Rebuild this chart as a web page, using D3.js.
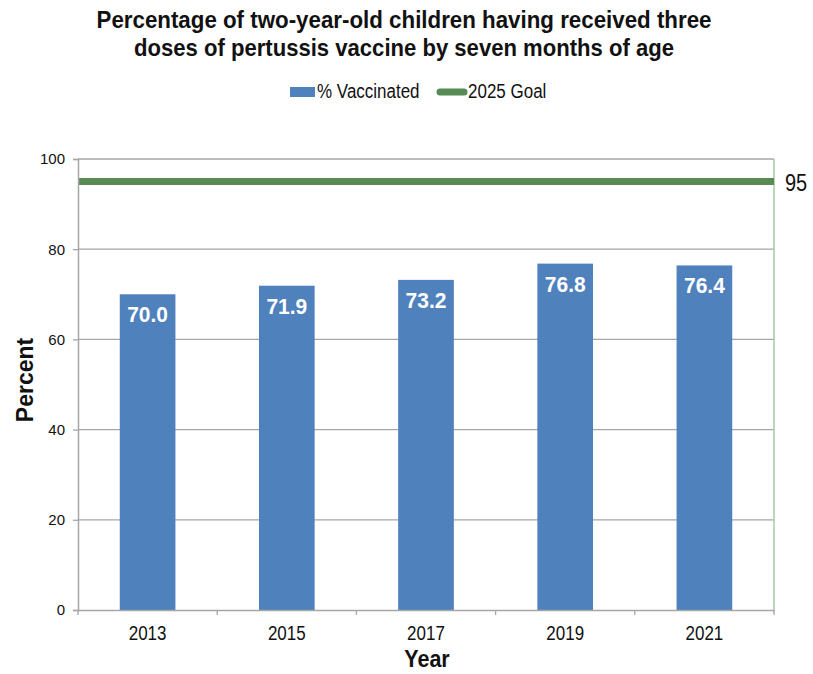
<!DOCTYPE html>
<html><head><meta charset="utf-8">
<script src="https://cdn.jsdelivr.net/npm/d3@7"></script>
<style>body{margin:0;background:#fff;} svg{display:block;}</style>
</head><body>
<script>
const years = ["2013","2015","2017","2019","2021"];
const vaccinated = [70.0, 71.9, 73.2, 76.8, 76.4];
const goal = 95;
const yTicks = [0,20,40,60,80,100];
const titleLines = ["Percentage of two-year-old children having received three","doses of pertussis vaccine by seven months of age"];
const legendLabels = ["% Vaccinated","2025 Goal"];

const W = 813, H = 674;
const m = {left:78, right:39, top:159, bottom:64};
const svg = d3.select("body").append("svg").attr("width",W).attr("height",H);
const font = "'Liberation Sans', Arial, sans-serif";
const ink = "#111";
const blue = "#4f81bd", green = "#578a55", grid = "#a6a6a6";

// text with a slight vertical stretch, positioned by translate
function stext(g, x, y, s, size, weight, anchor, txt, fill) {
  return g.append("text")
    .attr("transform", `translate(${x},${y}) scale(1,${s})`)
    .attr("text-anchor", anchor).attr("font-family", font)
    .attr("font-weight", weight).attr("font-size", size)
    .attr("fill", fill || ink).text(txt);
}

const x = d3.scaleBand().domain(years).range([m.left, W-m.right]).paddingInner(0.6).paddingOuter(0.3);
const y = d3.scaleLinear().domain([0,100]).range([H-m.bottom, m.top]);

// gridlines
svg.append("g").selectAll("line").data(yTicks.filter(d=>d>0)).join("line")
  .attr("x1",m.left).attr("x2",W-m.right).attr("y1",d=>y(d)).attr("y2",d=>y(d))
  .attr("stroke",grid).attr("stroke-width",1.3);

// right border
svg.append("line").attr("x1",W-m.right).attr("x2",W-m.right).attr("y1",y(100)).attr("y2",y(0))
  .attr("stroke","#a9c9a4").attr("stroke-width",1.5);

// bars
svg.append("g").selectAll("rect").data(vaccinated).join("rect")
  .attr("x",(d,i)=>x(years[i])).attr("width",x.bandwidth())
  .attr("y",d=>y(d)).attr("height",d=>y(0)-y(d)).attr("fill",blue);

// value labels
const vl = svg.append("g");
vaccinated.forEach((d,i)=>{
  stext(vl, x(years[i])+x.bandwidth()/2, y(d)+28, 1.08, 21, "bold", "middle", d.toFixed(1), "#fff");
});

// goal line
svg.append("line").attr("x1",m.left).attr("x2",W-m.right).attr("y1",y(goal)).attr("y2",y(goal))
  .attr("stroke",green).attr("stroke-width",7);
stext(svg, W-m.right+11, y(goal)+9, 1.2, 20, "normal", "start", String(goal));

// y axis
const ya = svg.append("g").attr("transform",`translate(${m.left},0)`)
  .call(d3.axisLeft(y).tickValues(yTicks).tickSize(5).tickPadding(8));
ya.select(".domain").attr("stroke",grid).attr("stroke-width",1.5);
ya.selectAll(".tick line").attr("stroke",grid).attr("stroke-width",1.3);
ya.selectAll("text").attr("font-family",font).attr("font-size",15).attr("fill",ink);

// x axis
const xa = svg.append("g").attr("transform",`translate(0,${y(0)})`)
  .call(d3.axisBottom(x).tickSize(0).tickFormat(""));
xa.select(".domain").attr("stroke",grid).attr("stroke-width",1.5);
const xl = svg.append("g");
years.forEach(yr=>{
  stext(xl, x(yr)+x.bandwidth()/2, 640, 1.15, 17, "normal", "middle", yr);
});
// boundary ticks
const bounds = d3.range(years.length+1).map(i=>m.left + i*(W-m.right-m.left)/years.length);
svg.append("g").selectAll("line").data(bounds).join("line")
  .attr("x1",d=>d).attr("x2",d=>d).attr("y1",y(0)).attr("y2",y(0)+5)
  .attr("stroke",grid).attr("stroke-width",1.3);

// axis titles
svg.append("text").attr("transform",`translate(33,380) rotate(-90)`)
  .attr("text-anchor","middle").attr("font-family",font).attr("font-weight","bold")
  .attr("font-size",23).attr("fill",ink).text("Percent");
stext(svg, 427, 667, 1.12, 21.5, "bold", "middle", "Year");

// title
const titleWidths = [615, 540];
titleLines.forEach((t,i)=>{
  svg.append("text").attr("x",404).attr("y",28+i*28).attr("text-anchor","middle")
    .attr("font-family",font).attr("font-weight","bold").attr("font-size",24).attr("fill",ink)
    .attr("textLength",titleWidths[i]).attr("lengthAdjust","spacingAndGlyphs").text(t);
});

// legend
const lg = svg.append("g");
lg.append("rect").attr("x",290).attr("y",87).attr("width",25).attr("height",10).attr("fill",blue);
stext(lg, 317, 98, 1.15, 17, "normal", "start", legendLabels[0]);
lg.append("line").attr("x1",440).attr("x2",464).attr("y1",92).attr("y2",92).attr("stroke",green).attr("stroke-width",7).attr("stroke-linecap","round");
stext(lg, 468, 98, 1.15, 17, "normal", "start", legendLabels[1]);
</script>
</body></html>
